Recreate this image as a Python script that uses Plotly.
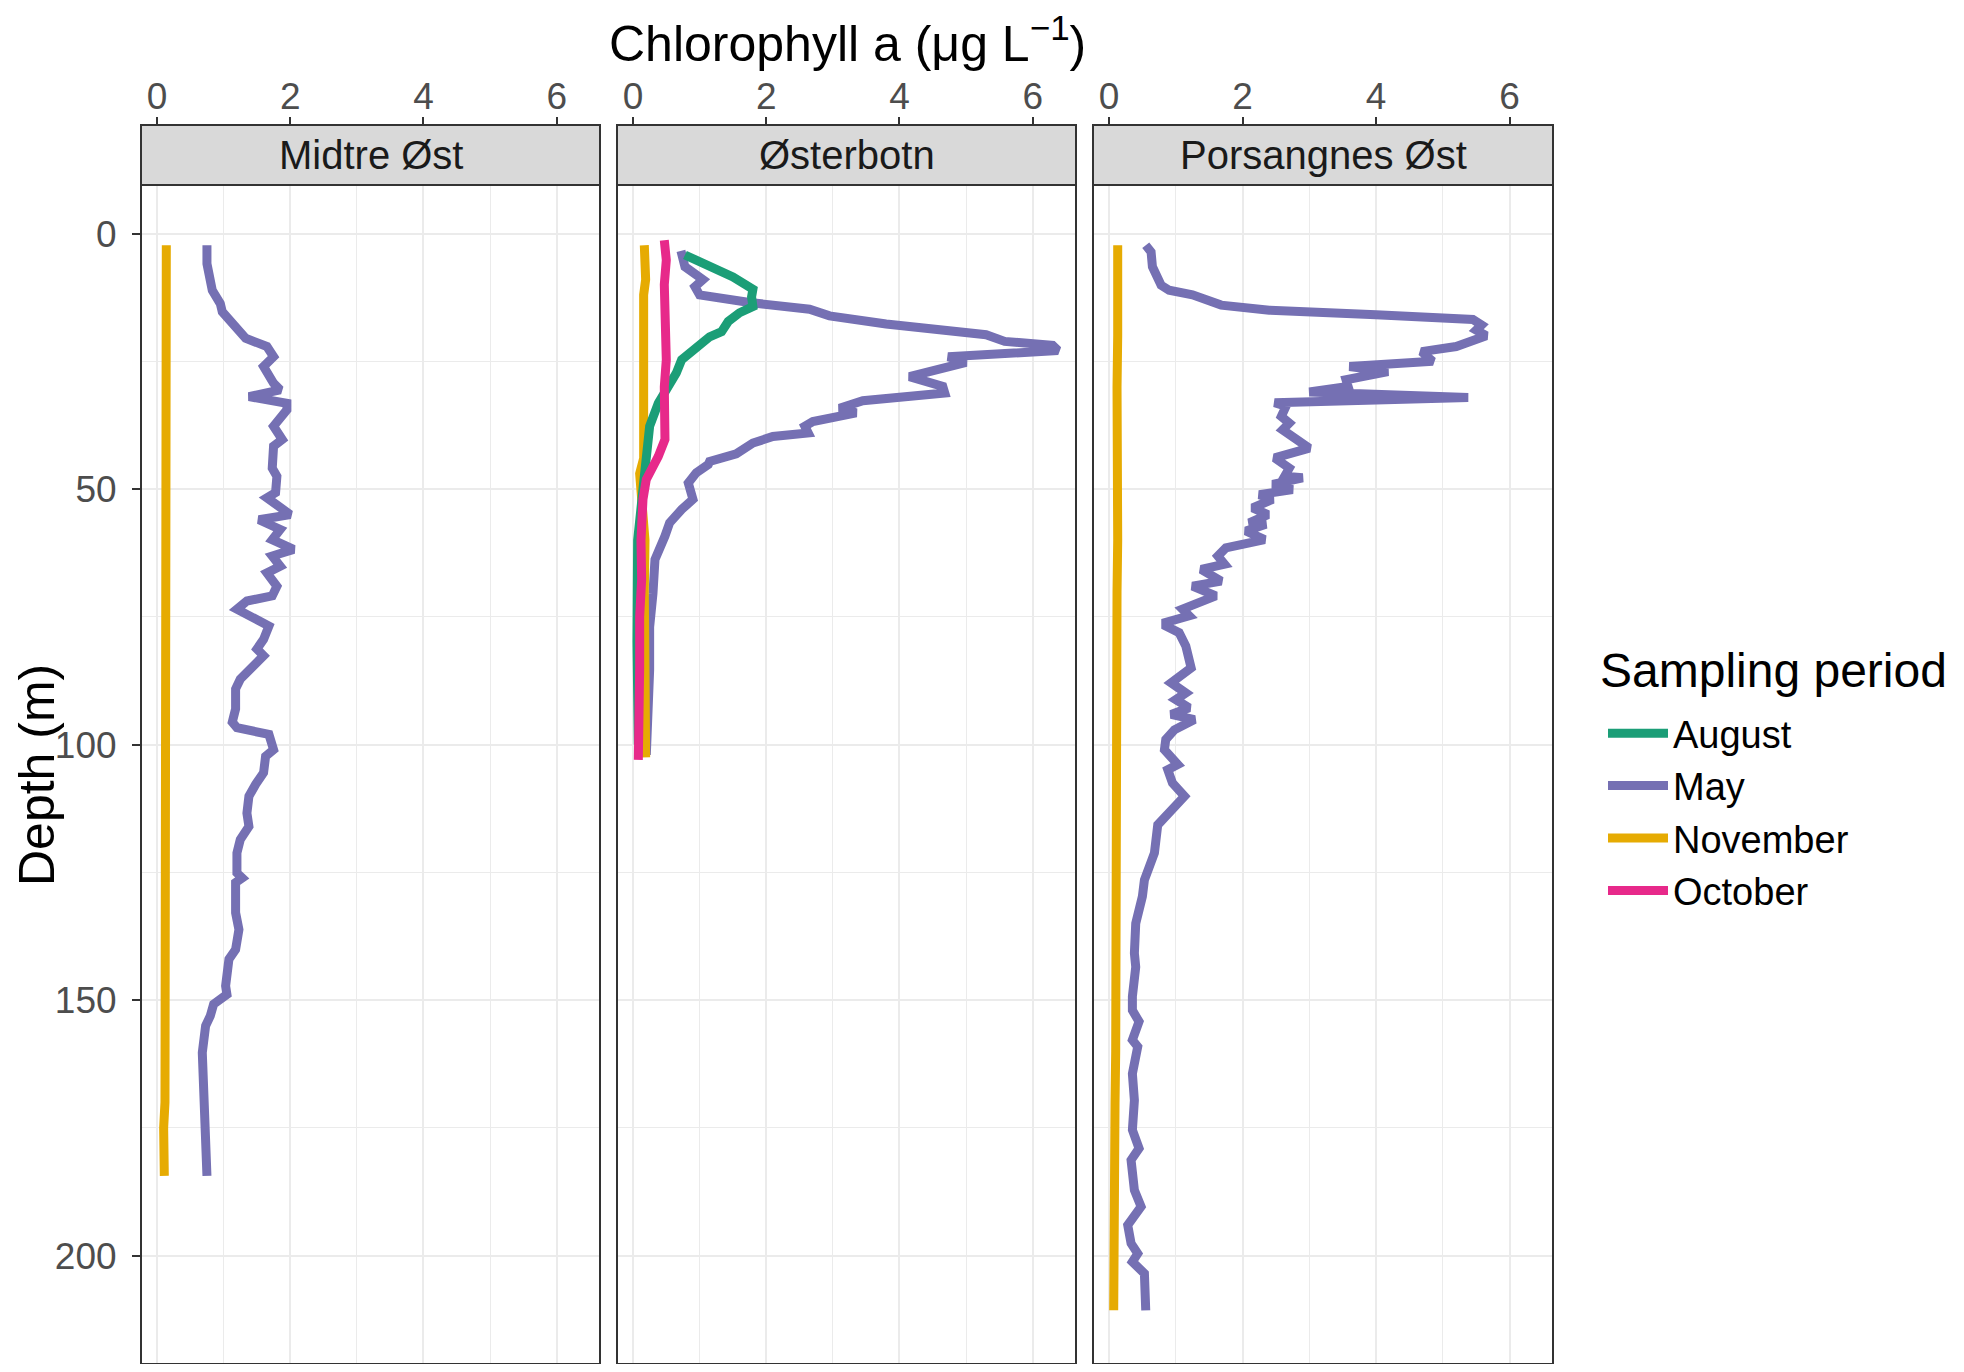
import plotly.graph_objects as go

# ---- data (depth in m, chlorophyll a in ug/L) ----
stations = ["Midtre Øst", "Østerbotn", "Porsangnes Øst"]
months = ["August", "May", "November", "October"]
month_colors = {"August": "#1B9E77", "May": "#7570B3",
                "November": "#E6AB02", "October": "#E7298A"}

# Midtre Øst
midtre_may_depth = [2.3, 5.9, 11.1, 13.7, 15.3, 18.9, 20.5, 22.1, 24.1, 26.0, 29.3, 30.6,
                    31.9, 33.2, 34.5, 37.7, 40.3, 41.6, 45.9, 47.5, 50.7, 51.7, 53.3, 55.0,
                    56.0, 57.9, 59.9, 61.8, 63.1, 65.1, 66.4, 69.0, 70.9, 71.9, 73.5, 76.8,
                    79.4, 81.3, 82.6, 87.2, 89.1, 93.0, 95.6, 96.7, 98.0, 101.0, 102.3, 105.5,
                    107.8, 110.1, 113.4, 116.0, 118.6, 121.2, 125.1, 126.1, 127.0, 132.9, 136.2,
                    140.1, 142.0, 147.2, 148.9, 150.8, 153.1, 155.0, 160.3, 166.8, 173.3, 178.5,
                    184.4]
midtre_may_chl = [0.75, 0.75, 0.83, 0.95, 0.98, 1.25, 1.33, 1.65, 1.75, 1.60, 1.75, 1.85,
                  1.38, 1.95, 1.95, 1.75, 1.88, 1.75, 1.73, 1.80, 1.78, 1.65, 1.80, 2.00,
                  1.53, 1.85, 1.73, 2.05, 1.73, 1.85, 1.65, 1.80, 1.73, 1.35, 1.20, 1.68,
                  1.60, 1.50, 1.60, 1.25, 1.18, 1.18, 1.13, 1.20, 1.68, 1.75, 1.63, 1.60,
                  1.48, 1.38, 1.35, 1.38, 1.25, 1.20, 1.20, 1.28, 1.18, 1.18, 1.23,
                  1.18, 1.08, 1.03, 1.05, 0.85, 0.80, 0.73, 0.68, 0.70, 0.73, 0.75,
                  0.75]
midtre_nov_depth = [2.3, 10, 20, 30, 40, 50, 60, 70, 80, 90, 100, 110, 120, 130, 140, 150,
                    160, 170, 175, 180, 184.4]
midtre_nov_chl = [0.14, 0.14, 0.13, 0.14, 0.13, 0.14, 0.12, 0.13, 0.14, 0.13, 0.13, 0.14,
                  0.13, 0.13, 0.14, 0.13, 0.13, 0.12, 0.10, 0.11, 0.11]

# Østerbotn
oster_aug_depth = [4.2, 6.6, 8.5, 10.9, 12.4, 14.3, 15.5, 17.2, 19.2, 20.2, 22.0, 24.7, 27.3,
                   30.0, 33.2, 37.7, 42.9, 50, 60, 70, 80, 90, 100]
oster_aug_chl = [0.78, 1.20, 1.50, 1.80, 1.78, 1.80, 1.60, 1.43, 1.33, 1.15, 1.00, 0.73, 0.65,
                 0.52, 0.38, 0.25, 0.20, 0.15, 0.07, 0.05, 0.06, 0.07, 0.08]
oster_may_depth = [3.4, 6.5, 9.0, 10.4, 12.0, 13.5, 14.8, 16.1, 17.7, 19.8, 21.1, 21.9, 22.9,
                   23.7, 24.1, 25.2, 28.0, 29.9, 31.2, 32.7, 34.2, 35.1, 36.8, 37.7, 39.0,
                   39.7, 41.0, 43.1, 44.6, 45.2, 46.8, 48.8, 52.0, 54.0, 56.6, 59.2, 63.8,
                   70.4, 77.0, 85.4, 90.0, 96.0, 102.0]
oster_may_chl = [0.72, 0.78, 1.05, 0.93, 1.00, 1.75, 2.65, 2.95, 3.80, 5.30, 5.58, 6.30, 6.38,
                 5.00, 4.73, 5.00, 4.15, 4.65, 4.68, 3.45, 3.10, 3.35, 2.70, 2.58, 2.63,
                 2.10, 1.80, 1.55, 1.15, 1.13, 0.95, 0.83, 0.90, 0.73, 0.55, 0.48, 0.33,
                 0.30, 0.25, 0.25, 0.24, 0.22, 0.20]
oster_nov_depth = [2.3, 5, 9, 12, 16, 20, 25, 30, 35, 41.6, 44, 47, 50, 55, 60, 70, 80, 90,
                   100, 102.5]
oster_nov_chl = [0.17, 0.18, 0.19, 0.16, 0.16, 0.15, 0.15, 0.15, 0.15, 0.15, 0.16, 0.10, 0.12,
                 0.15, 0.18, 0.17, 0.18, 0.19, 0.20, 0.19]
oster_oct_depth = [1.3, 5.2, 10, 15.6, 20, 24.7, 30, 35.1, 40.3, 43.6, 46, 48.1, 52, 54.6, 60,
                   67.7, 75, 85, 95, 103]
oster_oct_chl = [0.47, 0.50, 0.47, 0.49, 0.48, 0.50, 0.47, 0.48, 0.48, 0.38, 0.30, 0.20, 0.15,
                 0.13, 0.12, 0.13, 0.10, 0.10, 0.09, 0.08]

# Porsangnes Øst
pors_may_depth = [2.3, 3.6, 6.5, 8.5, 10.1, 11.1, 12.0, 14.0, 15.0, 15.9, 16.8, 17.9, 18.9,
                  20.0, 20.8, 22.1, 23.1, 25.0, 26.0, 27.0, 28.6, 29.9, 31.0, 32.1, 33.1,
                  33.8, 35.8, 37.1, 38.4, 42.0, 43.9, 45.9, 47.5, 47.8, 49.1, 50.1, 51.1,
                  52.0, 53.7, 55.0, 56.6, 56.9, 58.2, 59.9, 61.5, 63.1, 64.7, 65.7, 68.0,
                  69.0, 70.9, 73.5, 74.8, 76.1, 76.8, 78.1, 80.7, 85.0, 87.9, 89.9, 91.2,
                  92.8, 94.1, 95.1, 97.1, 99.0, 101.0, 103.9, 104.9, 107.5, 110.1, 112.4,
                  115.7, 121.2, 126.5, 129.7, 135.0, 140.8, 143.5, 149.3, 152.0, 154.2,
                  157.8, 159.1, 164.4, 169.6, 175.4, 179.0, 181.3, 187.2, 190.4, 194.0,
                  197.6, 199.6, 201.2, 203.5, 206.8, 210.7]
pors_may_chl = [0.55, 0.63, 0.65, 0.73, 0.78, 0.90, 1.25, 1.68, 2.40, 4.00, 5.45, 5.58, 5.50,
                5.65, 5.45, 5.20, 4.68, 4.85, 3.60, 4.18, 3.55, 3.58, 3.00, 5.38, 2.48,
                2.65, 2.58, 2.70, 2.60, 3.00, 2.48, 2.70, 2.63, 2.90, 2.45, 2.75, 2.25,
                2.45, 2.15, 2.38, 2.10, 2.35, 2.05, 2.33, 1.75, 1.63, 1.73, 1.38, 1.68,
                1.25, 1.60, 1.10, 1.20, 0.85, 0.85, 1.05, 1.15, 1.23, 0.93, 1.15, 1.00,
                1.20, 0.93, 1.28, 0.98, 0.85, 0.83, 1.03, 0.88, 0.95, 1.13, 0.95,
                0.73, 0.68, 0.53, 0.50, 0.40, 0.38, 0.40, 0.35, 0.35, 0.45,
                0.35, 0.43, 0.35, 0.38, 0.35, 0.45, 0.33, 0.38, 0.48, 0.28,
                0.33, 0.43, 0.35, 0.53, 0.55, 0.55]
pors_nov_depth = [2.3, 10, 20, 30, 40, 50, 60, 70, 80, 90, 100, 110, 120, 130, 140, 150, 160,
                  170, 180, 190, 200, 210.7]
pors_nov_chl = [0.13, 0.14, 0.13, 0.12, 0.13, 0.12, 0.13, 0.12, 0.12, 0.13, 0.11, 0.12, 0.11,
                0.12, 0.11, 0.10, 0.10, 0.09, 0.09, 0.08, 0.08, 0.07]

profiles = {
    "Midtre Øst": {"May": (midtre_may_depth, midtre_may_chl),
                   "November": (midtre_nov_depth, midtre_nov_chl)},
    "Østerbotn": {"May": (oster_may_depth, oster_may_chl),
                  "November": (oster_nov_depth, oster_nov_chl),
                  "August": (oster_aug_depth, oster_aug_chl),
                  "October": (oster_oct_depth, oster_oct_chl)},
    "Porsangnes Øst": {"May": (pors_may_depth, pors_may_chl),
                       "November": (pors_nov_depth, pors_nov_chl)},
}

x_ticks = [0, 2, 4, 6]
y_ticks = [0, 50, 100, 150, 200]

# ---- layout geometry, in page pixels (the page body has an 8px margin) ----
OFF = 8
W, H = 1964 - OFF, 1372 - 2 * OFF
panel_px = [(141, 600), (617, 1076), (1093, 1553)]
panel_top, panel_bot = 185, 1364
strip_top = 125
font = "Liberation Sans, Arial, sans-serif"

def px(v):
    return (v - OFF) / W

def py(v):
    return 1 - (v - OFF) / H

fig = go.Figure()
seen = set()
draw_order = ["May", "November", "August", "October"]
for i, st in enumerate(stations, start=1):
    for m in draw_order:
        if m not in profiles[st]:
            continue
        d, c = profiles[st][m]
        fig.add_trace(go.Scatter(
            x=c, y=d, mode="lines", name=m, legendgroup=m,
            showlegend=m not in seen, legendrank=months.index(m) + 1,
            line=dict(color=month_colors[m], width=9),
            xaxis=f"x{i}", yaxis=f"y{i}"))
        seen.add(m)

shapes = []
annotations = []
grid = "#EBEBEB"
for i, (a, b) in enumerate(panel_px, start=1):
    sfx = "" if i == 1 else str(i)
    fig.update_layout({
        f"xaxis{sfx}": dict(
            domain=[px(a), px(b)], range=[-0.24, 6.65], anchor="free",
            position=py(strip_top), side="top", tickvals=x_ticks,
            ticks="outside", ticklen=8, tickwidth=2, tickcolor="#333333",
            ticklabelstandoff=-7,
            showgrid=True, gridcolor=grid, gridwidth=2.2, zeroline=False,
            showline=False, tickfont=dict(size=37, color="#4D4D4D", family=font),
            minor=dict(tickvals=[1, 3, 5], showgrid=True, gridcolor=grid, gridwidth=1.2)),
        f"yaxis{sfx}": dict(
            domain=[py(panel_bot), py(panel_top)], range=[221.2, -9.5],
            anchor=f"x{sfx}", tickvals=y_ticks, showticklabels=(i == 1),
            ticks="outside" if i == 1 else "", ticklen=8, tickwidth=2,
            tickcolor="#333333", ticklabelstandoff=8,
            showgrid=True, gridcolor=grid, gridwidth=2.2,
            zeroline=False, showline=False,
            tickfont=dict(size=37, color="#4D4D4D", family=font),
            minor=dict(tickvals=[25, 75, 125, 175], showgrid=True,
                       gridcolor=grid, gridwidth=1.2)),
    })
    # panel border
    shapes.append(dict(type="rect", xref="paper", yref="paper", layer="above",
                       x0=px(a), x1=px(b), y0=py(panel_bot), y1=py(panel_top),
                       line=dict(color="#333333", width=2)))
    # facet strip
    shapes.append(dict(type="rect", xref="paper", yref="paper", layer="above",
                       x0=px(a), x1=px(b), y0=py(panel_top), y1=py(strip_top),
                       fillcolor="#D9D9D9", line=dict(color="#333333", width=2)))
    annotations.append(dict(text=stations[i - 1], xref="paper", yref="paper",
                            x=px((a + b) / 2), y=py((panel_top + strip_top) / 2),
                            xanchor="center", yanchor="middle", showarrow=False,
                            font=dict(size=40, color="#1A1A1A", family=font)))

annotations.append(dict(text="Chlorophyll a (μg L<sup>−1</sup>)", xref="paper", yref="paper",
                        x=px(847), y=py(40), xanchor="center", yanchor="middle",
                        showarrow=False, font=dict(size=50, color="black", family=font)))
annotations.append(dict(text="Depth (m)", xref="paper", yref="paper", textangle=-90,
                        x=px(37), y=py(775), xanchor="center", yanchor="middle",
                        showarrow=False, font=dict(size=50, color="black", family=font)))
annotations.append(dict(text="Sampling period", xref="paper", yref="paper",
                        x=px(1598), y=py(670), xanchor="left", yanchor="middle",
                        showarrow=False, font=dict(size=48, color="black", family=font)))

fig.update_layout(
    width=W, height=H, margin=dict(l=0, r=0, t=0, b=0),
    paper_bgcolor="white", plot_bgcolor="white",
    shapes=shapes, annotations=annotations,
    legend=dict(x=px(1603), y=py(702), xanchor="left", yanchor="top",
                font=dict(size=38, color="black", family=font),
                itemwidth=60, tracegroupgap=0, bgcolor="rgba(0,0,0,0)"),
    font=dict(family=font),
)

fig.write_html("out.html")
